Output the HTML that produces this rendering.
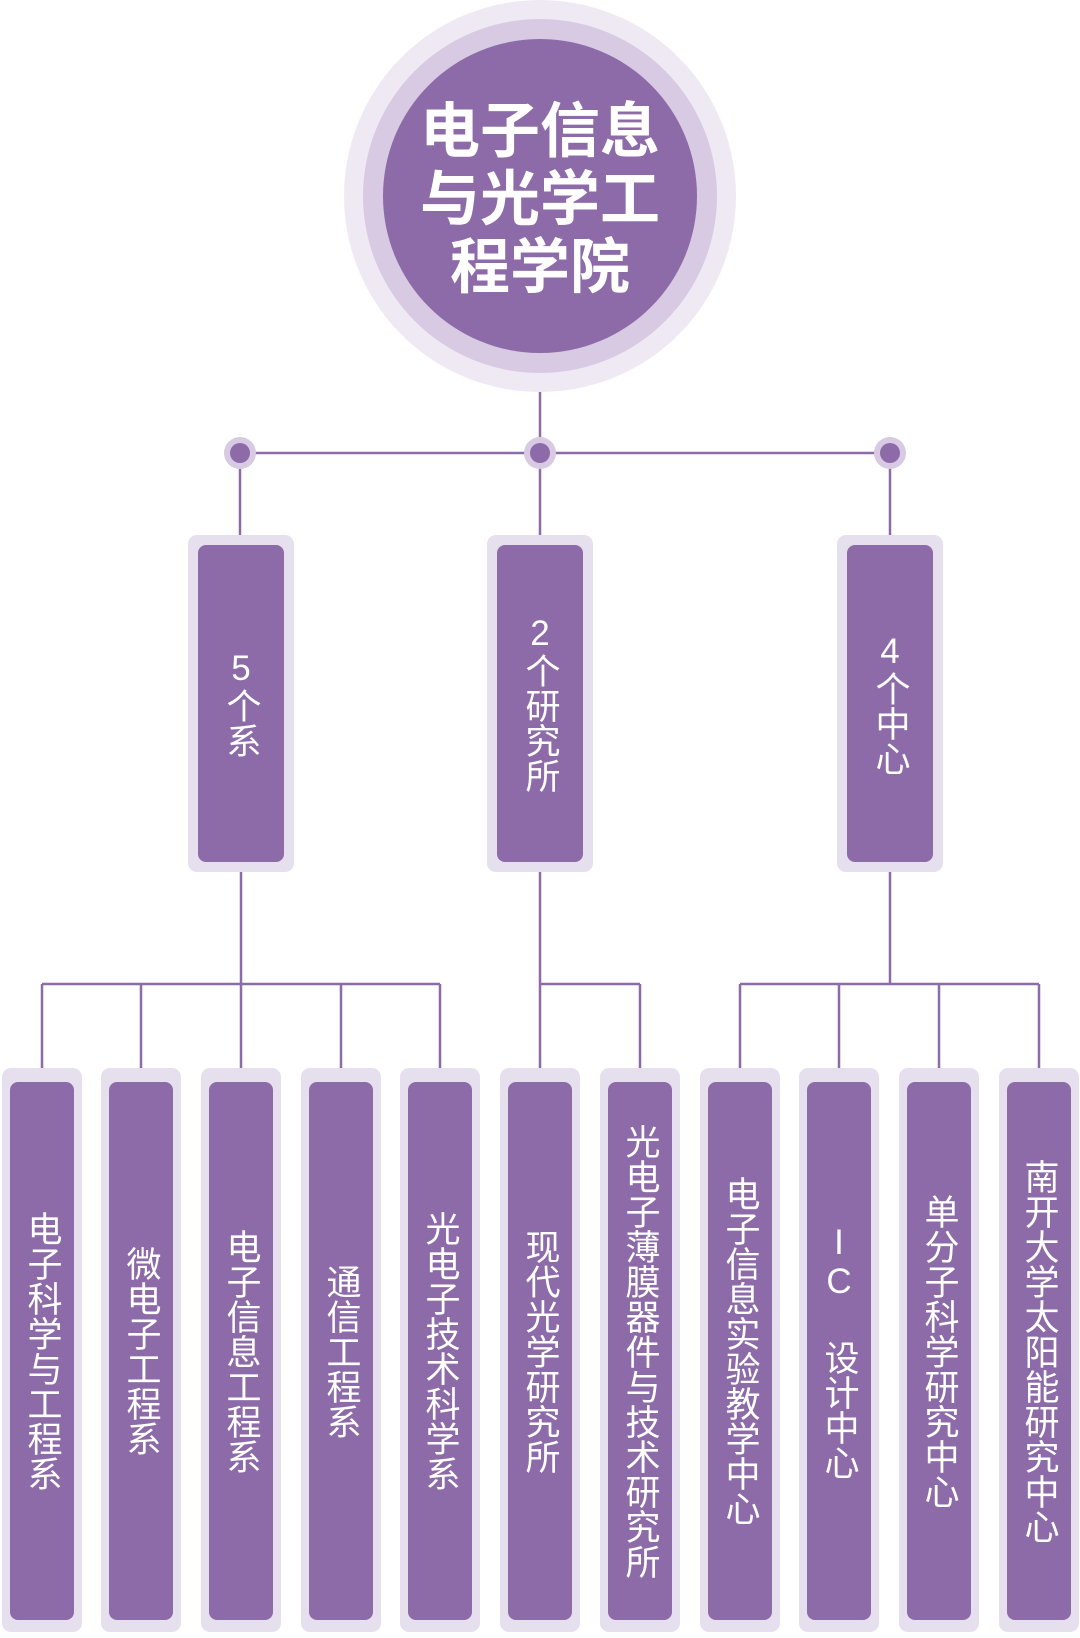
<!DOCTYPE html>
<html><head><meta charset="utf-8"><style>
body{margin:0;width:1080px;height:1638px;background:#fff;position:relative;overflow:hidden;font-family:"Liberation Sans","Noto Sans CJK SC",sans-serif}
.o{position:absolute;background:#e6dfee;border-radius:9px}
.i{position:absolute;background:#8c6ba8;border-radius:8px;display:flex;align-items:center;justify-content:center;color:#fff}
.v{writing-mode:vertical-rl;text-orientation:upright;font-size:35px;line-height:1}
</style></head><body>
<svg width="1080" height="1638" style="position:absolute;left:0;top:0">
<circle cx="540" cy="196" r="196" fill="#efe9f4"/>
<circle cx="540" cy="196" r="177" fill="#d7cae2"/>
<circle cx="540" cy="196" r="157" fill="#8c6ba8"/>
<g stroke="#8c6ba8" stroke-width="2.5" fill="none">
<line x1="540" y1="392" x2="540" y2="540"/>
<line x1="240" y1="453" x2="890" y2="453"/>
<line x1="240" y1="453" x2="240" y2="540"/>
<line x1="890" y1="453" x2="890" y2="540"/>
<line x1="241" y1="870" x2="241" y2="984"/>
<line x1="540" y1="870" x2="540" y2="984"/>
<line x1="890" y1="870" x2="890" y2="984"/>
<line x1="42" y1="984" x2="440" y2="984"/>
<line x1="540" y1="984" x2="640" y2="984"/>
<line x1="740" y1="984" x2="1039" y2="984"/>
<line x1="42" y1="984" x2="42" y2="1070"/>
<line x1="141" y1="984" x2="141" y2="1070"/>
<line x1="241" y1="984" x2="241" y2="1070"/>
<line x1="341" y1="984" x2="341" y2="1070"/>
<line x1="440" y1="984" x2="440" y2="1070"/>
<line x1="540" y1="984" x2="540" y2="1070"/>
<line x1="640" y1="984" x2="640" y2="1070"/>
<line x1="740" y1="984" x2="740" y2="1070"/>
<line x1="839" y1="984" x2="839" y2="1070"/>
<line x1="939" y1="984" x2="939" y2="1070"/>
<line x1="1039" y1="984" x2="1039" y2="1070"/>
</g>
<g><circle cx="240" cy="453" r="16" fill="#d7cae2"/><circle cx="240" cy="453" r="10" fill="#8c6ba8"/>
<circle cx="540" cy="453" r="16" fill="#d7cae2"/><circle cx="540" cy="453" r="10" fill="#8c6ba8"/>
<circle cx="890" cy="453" r="16" fill="#d7cae2"/><circle cx="890" cy="453" r="10" fill="#8c6ba8"/></g>
</svg>
<div style="position:absolute;left:383px;top:98px;width:314px;text-align:center;color:#fff;font-weight:bold;font-size:60px;line-height:68px">电子信息<br>与光学工<br>程学院</div>

<div class="o" style="left:188px;top:535px;width:106px;height:337px"></div>
<div class="i v" style="left:198px;top:545px;width:86px;height:317px">5个系</div>
<div class="o" style="left:487px;top:535px;width:106px;height:337px"></div>
<div class="i v" style="left:497px;top:545px;width:86px;height:317px">2个研究所</div>
<div class="o" style="left:837px;top:535px;width:106px;height:337px"></div>
<div class="i v" style="left:847px;top:545px;width:86px;height:317px">4个中心</div>

<div class="o" style="left:2px;top:1068px;width:80px;height:564px"></div><div class="i v" style="left:10px;top:1082px;width:64px;height:538px">电子科学与工程系</div>
<div class="o" style="left:101px;top:1068px;width:80px;height:564px"></div><div class="i v" style="left:109px;top:1082px;width:64px;height:538px">微电子工程系</div>
<div class="o" style="left:201px;top:1068px;width:80px;height:564px"></div><div class="i v" style="left:209px;top:1082px;width:64px;height:538px">电子信息工程系</div>
<div class="o" style="left:301px;top:1068px;width:80px;height:564px"></div><div class="i v" style="left:309px;top:1082px;width:64px;height:538px">通信工程系</div>
<div class="o" style="left:400px;top:1068px;width:80px;height:564px"></div><div class="i v" style="left:408px;top:1082px;width:64px;height:538px">光电子技术科学系</div>
<div class="o" style="left:500px;top:1068px;width:80px;height:564px"></div><div class="i v" style="left:508px;top:1082px;width:64px;height:538px">现代光学研究所</div>
<div class="o" style="left:600px;top:1068px;width:80px;height:564px"></div><div class="i v" style="left:608px;top:1082px;width:64px;height:538px">光电子薄膜器件与技术研究所</div>
<div class="o" style="left:700px;top:1068px;width:80px;height:564px"></div><div class="i v" style="left:708px;top:1082px;width:64px;height:538px">电子信息实验教学中心</div>
<div class="o" style="left:799px;top:1068px;width:80px;height:564px"></div><div class="i v" style="left:807px;top:1082px;width:64px;height:538px">IC 设计中心</div>
<div class="o" style="left:899px;top:1068px;width:80px;height:564px"></div><div class="i v" style="left:907px;top:1082px;width:64px;height:538px">单分子科学研究中心</div>
<div class="o" style="left:999px;top:1068px;width:80px;height:564px"></div><div class="i v" style="left:1007px;top:1082px;width:64px;height:538px">南开大学太阳能研究中心</div>
</body></html>
